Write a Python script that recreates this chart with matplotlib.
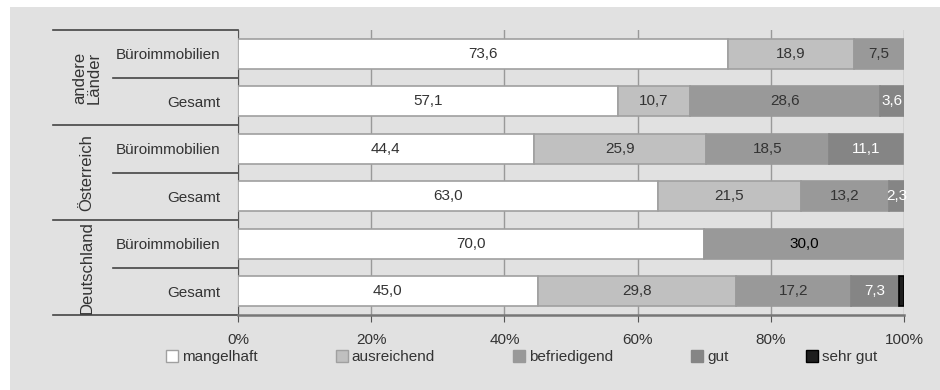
import numpy as np
import matplotlib
matplotlib.use("Agg")
import matplotlib.pyplot as plt
from matplotlib.patches import Rectangle, Patch
import matplotlib.transforms as mtransforms

plt.rcParams["font.family"] = ["Liberation Sans", "DejaVu Sans"]

# ---------------- DATA ---------------- #
rows = ["Büroimmobilien", "Gesamt", "Büroimmobilien", "Gesamt", "Büroimmobilien", "Gesamt"]
groups = ["andere\nLänder", "Österreich", "Deutschland"]
categories = ["mangelhaft", "ausreichend", "befriedigend", "gut", "sehr gut"]

mangelhaft = [73.6, 57.1, 44.4, 63.0, 70.0, 45.0]
ausreichend = [18.9, 10.7, 25.9, 21.5, 0.0, 29.8]
befriedigend = [7.5, 28.6, 18.5, 13.2, 30.0, 17.2]
gut = [0.0, 3.6, 11.1, 2.3, 0.0, 7.3]
sehr_gut = [0.0, 0.0, 0.0, 0.0, 0.0, 0.7]

series = [mangelhaft, ausreichend, befriedigend, gut, sehr_gut]
fills = ["#ffffff", "#c0c0c0", "#999999", "#858585", "#1e1e1e"]
edges = ["#a0a0a0", "#a0a0a0", "#999999", "#858585", "#000000"]
text_colors = ["#333333", "#333333", "#333333", "#ffffff", "#ffffff"]

FS = 11

# ---------------- PLOT ---------------- #
fig = plt.figure(figsize=(9.4, 3.9), dpi=100)
fig.patch.set_facecolor("white")
fig.patches.append(Rectangle((10 / 940, 0), 930 / 940, 383 / 390,
                             transform=fig.transFigure, facecolor="#e1e1e1",
                             edgecolor="none", zorder=-10))

ax = fig.add_axes([238 / 940, 1 - 315 / 390, 666 / 940, 285 / 390])
ax.set_facecolor("none")

y = np.arange(len(rows))
left = np.zeros(len(rows))
for vals, fc, ec, tc in zip(series, fills, edges, text_colors):
    vals = np.array(vals)
    mask = vals > 0
    ax.barh(y[mask], vals[mask], left=left[mask], height=0.63, color=fc,
            edgecolor=ec, linewidth=1.2, zorder=3)
    for yi, (l, v) in enumerate(zip(left, vals)):
        if v >= 1:
            col = "#000000" if (v == 30.0) else tc
            ax.text(l + v / 2, yi, f"{v:.1f}".replace(".", ","), ha="center",
                    va="center", fontsize=FS, color=col, zorder=4)
    left += vals

ax.set_xlim(0, 100)
ax.set_ylim(len(rows) - 0.5, -0.5)
ax.set_xticks([0, 20, 40, 60, 80, 100])
ax.set_xticklabels(["0%", "20%", "40%", "60%", "80%", "100%"], fontsize=FS, color="#333333")
ax.set_yticks(y)
ax.set_yticklabels(rows, fontsize=FS, color="#333333")
ax.tick_params(axis="y", length=0, pad=13)
ax.tick_params(axis="x", length=5, color="#555555", pad=8)
ax.xaxis.grid(True, color="#999999", linewidth=1, zorder=0)
ax.set_axisbelow(True)
for s in ["top", "right"]:
    ax.spines[s].set_visible(False)
ax.spines["left"].set_color("#555555")
ax.spines["bottom"].set_color("#777777")
ax.spines["bottom"].set_linewidth(1.8)

# group separators and labels
trans = mtransforms.blended_transform_factory(ax.transAxes, ax.transData)
for b in [-0.5, 1.5, 3.5, 5.5]:
    ax.plot([-185 / 666, 0], [b, b], transform=trans, color="#444444",
            linewidth=1.2, clip_on=False)
for b in [0.5, 2.5, 4.5]:
    ax.plot([-125 / 666, 0], [b, b], transform=trans, color="#444444",
            linewidth=1.2, clip_on=False)
for gi, g in enumerate(groups):
    ax.text(-151 / 666, gi * 2 + 0.5, g, transform=trans, rotation=90,
            ha="center", va="center", fontsize=12, color="#333333",
            linespacing=1.0)

# legend
handles = [Patch(facecolor=fc, edgecolor=ec if fc not in ("#999999", "#858585") else fc,
                 linewidth=1) for fc, ec in zip(fills, edges)]
fig.legend(handles, categories, loc="center left", ncol=5,
           bbox_to_anchor=(166 / 940, 1 - 357 / 390), frameon=False,
           fontsize=FS, handlelength=0.8, handleheight=0.8,
           handletextpad=0.25, columnspacing=5.1, borderpad=0,
           borderaxespad=0, labelcolor="#333333")

fig.savefig("out.png", dpi=100)
